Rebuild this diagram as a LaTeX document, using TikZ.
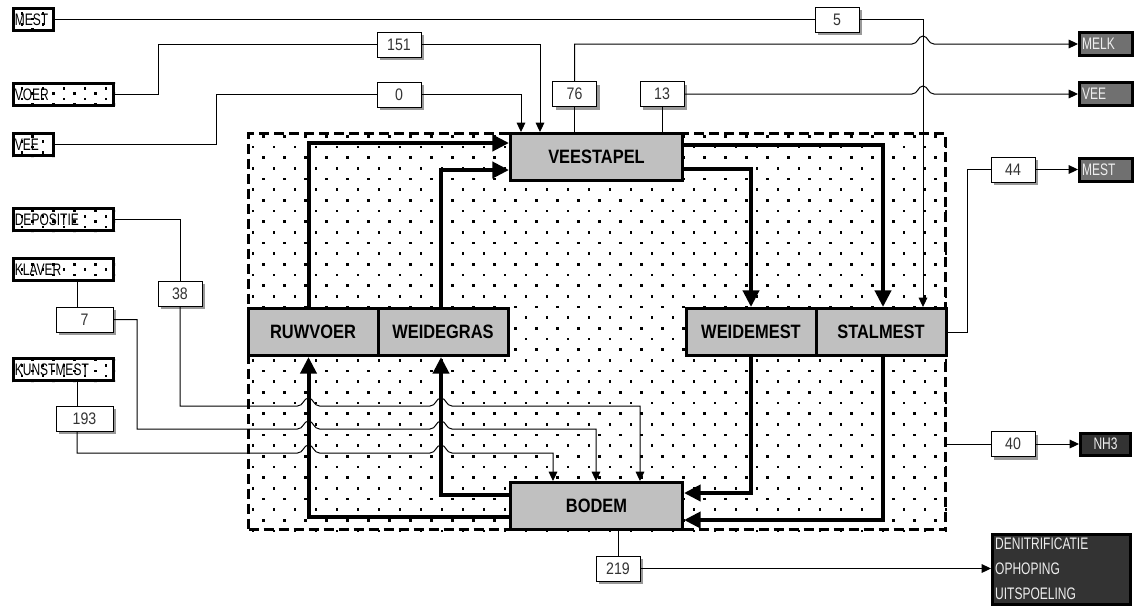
\documentclass[tikz,border=0pt]{standalone}
\usepackage{fontspec}
\setmainfont{Liberation Sans}
\newfontfamily\nar[FakeStretch=0.72]{Liberation Sans}
\newfontfamily\narnum[FakeStretch=0.85]{Liberation Sans}
\newfontfamily\mainb[FakeStretch=0.85]{Liberation Sans}
\usetikzlibrary{arrows.meta,shadows,calc}
\definecolor{boxgray}{HTML}{C0C0C0}
\definecolor{outgray}{HTML}{707070}
\definecolor{outdark}{HTML}{333333}
\definecolor{outtext}{HTML}{EEEEEE}
\definecolor{numtext}{HTML}{333333}
\newcommand\inlbl{\nar\fontsize{12.5pt}{14pt}\selectfont}
\newcommand\numlbl{\narnum\fontsize{12.5pt}{14pt}\selectfont}
\newcommand\mainlbl{\mainb\bfseries\fontsize{14.5pt}{16pt}\selectfont}
\newcommand\hopat[2]{-- (#1-11,#2) .. controls (#1-5,#2) and (#1-5,#2-8) .. (#1,#2-8) .. controls (#1+5,#2-8) and (#1+5,#2) .. (#1+11,#2)}
\tikzset{
  x=0.75pt, y=-0.75pt,
  mainbox/.style={draw, line width=2.25pt, fill=boxgray, inner sep=0pt,
    minimum height=35.25pt, minimum width=97.5pt, font=\mainlbl},
  inbox/.style={draw, line width=2.25pt, inner xsep=1pt, inner ysep=0pt,
    minimum height=16.5pt, align=left, font=\inlbl},
  valbox/.style={draw, line width=0.75pt, fill=white, inner sep=0pt,
    minimum width=33pt, minimum height=18.75pt, font=\numlbl, text=numtext,
    drop shadow={shadow xshift=2.25pt, shadow yshift=-2.25pt, fill=black!40, opacity=1}},
  outbox/.style={draw, line width=2.25pt, inner xsep=2pt, inner ysep=0pt,
    minimum height=17.25pt, align=left, font=\inlbl, text=outtext},
  framebox/.style={draw, line width=2.25pt, dash pattern=on 7.5pt off 3.75pt,
    inner sep=0pt, minimum width=522.75pt, minimum height=297pt},
  thinline/.style={line width=0.75pt, black},
  tarrow/.style={-{Triangle[length=7pt,width=6.5pt]}},
  thickline/.style={line width=3pt, black},
  Tarrow/.style={-{Triangle[length=12.5pt,width=12pt]}},
  dot/.style={fill=black},
}
\begin{document}
\begin{tikzpicture}
\useasboundingbox (0,0) rectangle (1136,608);
% dots inside the system frame
\begin{scope}
  \clip (247,132) rectangle (947,531);
  \foreach \j in {0,...,37} {
    \pgfmathsetmacro\yy{135+10.67*\j}
    \pgfmathsetmacro\dx{mod(\j,2)*10.5}
    \foreach \i in {0,...,34} {
      \fill[dot] (241+\dx+21*\i,\yy) rectangle ++(2.6,2.6);
    }
  }
\end{scope}
% dots inside input boxes
\begin{scope}
  \clip (12,7) rectangle (55,32) (12,82) rectangle (115,107) (12,132) rectangle (55,157)
        (12,207) rectangle (115,232) (12,257) rectangle (115,282) (12,357) rectangle (115,382);
  \foreach \j in {-26,...,48} {
    \pgfmathsetmacro\yy{135+5.33*\j}
    \pgfmathsetmacro\dx{mod(\j+40,2)*10.5}
    \foreach \i in {-12,...,-5} {
      \fill[dot] (241+\dx+21*\i,\yy) rectangle ++(2.6,2.6);
    }
  }
\end{scope}
% frame
\node[framebox] (sys) at (597,331.5) {};
% helper coordinates
\coordinate (x308) at (308.5,0);
\coordinate (x441) at (441,0);
\coordinate (x751) at (751,0);
\coordinate (x883) at (883,0);
\coordinate (x923) at (923,0);
\coordinate (x521) at (521,0);
\coordinate (x540) at (540,0);
\coordinate (x158) at (158,0);
\coordinate (x216) at (216,0);
\coordinate (x967) at (967,0);
\coordinate (x137) at (137,0);
\coordinate (x77) at (77,0);
\coordinate (x553) at (553,0);
\coordinate (x596) at (596,0);
\coordinate (x640) at (640,0);
\coordinate (y143) at (0,143);
\coordinate (y170) at (0,170);
\coordinate (y145) at (0,145);
\coordinate (y169) at (0,169);
\coordinate (y493) at (0,493);
\coordinate (y520) at (0,520);
\coordinate (y495) at (0,495);
\coordinate (y517) at (0,517);
% main boxes
\node[mainbox, minimum width=129pt] (veestapel) at (596.5,157) {VEESTAPEL};
\node[mainbox, minimum width=129pt] (bodem) at (596.5,506) {BODEM};
\node[mainbox] (ruwvoer) at (313,332) {RUWVOER};
\node[mainbox] (weidegras) at (443,332) {WEIDEGRAS};
\node[mainbox] (weidemest) at (751,332) {WEIDEMEST};
\node[mainbox] (stalmest) at (881,332) {STALMEST};
% input boxes
\node[inbox, text width=28pt] (imest) at (33.5,19.5) {MEST};
\node[inbox, text width=73pt] (ivoer) at (63.5,94.5) {VOER};
\node[inbox, text width=28pt] (ivee) at (33.5,144.5) {VEE};
\node[inbox, text width=73pt] (idep) at (63.5,219.5) {DEPOSITIE};
\node[inbox, text width=73pt] (iklaver) at (63.5,269.5) {KLAVER};
\node[inbox, text width=73pt] (ikunst) at (63.5,369.5) {KUNSTMEST};
% value boxes
\node[valbox] (v5) at (837,19.5) {5};
\node[valbox] (v151) at (399,44.5) {151};
\node[valbox] (v0) at (399,94.5) {0};
\node[valbox] (v76) at (574.5,94) {76};
\node[valbox] (v13) at (662,94) {13};
\node[valbox] (v44) at (1013,169.5) {44};
\node[valbox] (v40) at (1013,444) {40};
\node[valbox] (v219) at (618,568.5) {219};
\node[valbox] (v38) at (180,293.5) {38};
\node[valbox, minimum width=42.75pt] (v7) at (84.5,319.5) {7};
\node[valbox, minimum width=42.75pt] (v193) at (84.5,418.5) {193};
% output boxes
\node[outbox, fill=outgray, text width=35.75pt] (omelk) at (1106,44) {MELK};
\node[outbox, fill=outgray, text width=35.75pt] (ovee) at (1106,94) {VEE};
\node[outbox, fill=outgray, text width=35.75pt] (omest) at (1106,169.5) {MEST};
\node[outbox, fill=outdark, text width=33.5pt, align=center, minimum height=16.5pt] (onh3) at (1105.5,444) {NH3};
\node[outbox, fill=outdark, text width=99.5pt, minimum height=52.5pt,
      font=\nar\fontsize{12.5pt}{18.75pt}\selectfont] (oden) at (1061.5,569) {DENITRIFICATIE\\OPHOPING\\UITSPOELING};
% thin connectors: inputs
\draw[thinline] (imest.east) -- (v5.west);
\draw[thinline, tarrow] (v5.east) -| (stalmest.north -| x923);
\draw[thinline] (ivoer.east) -- (ivoer.east -| x158) |- (v151.west);
\draw[thinline, tarrow] (v151.east) -| (veestapel.north -| x540);
\draw[thinline] (ivee.east) -- (ivee.east -| x216) |- (v0.west);
\draw[thinline, tarrow] (v0.east) -| (veestapel.north -| x521);
% thin connectors: outputs
\draw[thinline] (veestapel.north -| v76) -- (v76.south);
\draw[thinline, tarrow] (v76.north) -- (v76.north |- omelk.west) \hopat{923}{44} -- (omelk.west);
\draw[thinline] (veestapel.north -| v13) -- (v13.south);
\draw[thinline, tarrow] (v13.east) \hopat{923}{94} -- (ovee.west);
\draw[thinline] (stalmest.east) -- (stalmest.east -| x967) |- (v44.west);
\draw[thinline, tarrow] (v44.east) -- (omest.west);
\draw[thinline] (sys.east |- v40.west) -- (v40.west);
\draw[thinline, tarrow] (v40.east) -- (onh3.west);
\draw[thinline] (bodem.south -| v219) -- (v219.north);
\draw[thinline, tarrow] (v219.east) -- (oden.west |- v219.east);
% thin connectors: deposition, clover, fertiliser
\draw[thinline] (idep.east) -| (v38.north);
\draw[thinline, tarrow] (v38.south) -- (180,406) \hopat{308.5}{406} \hopat{441}{406} -| (bodem.north -| x640);
\draw[thinline] (iklaver.south -| x77) -- (v7.north -| x77);
\draw[thinline, tarrow] (v7.east) -- (v7.east -| x137) -- (137,429) \hopat{308.5}{429} \hopat{441}{429} -| (bodem.north -| x596);
\draw[thinline] (ikunst.south -| x77) -- (v193.north -| x77);
\draw[thinline, tarrow] (v193.south -| x77) -- (77,453) \hopat{308.5}{453} \hopat{441}{453} -| (bodem.north -| x553);
% thick internal flows
\draw[thickline, Tarrow] (ruwvoer.north -| x308) |- (veestapel.west |- y143);
\draw[thickline, Tarrow] (weidegras.north -| x441) |- (veestapel.west |- y170);
\draw[thickline, Tarrow] (veestapel.east |- y145) -| (stalmest.north -| x883);
\draw[thickline, Tarrow] (veestapel.east |- y169) -| (weidemest.north -| x751);
\draw[thickline, Tarrow] (weidemest.south -| x751) |- (bodem.east |- y493);
\draw[thickline, Tarrow] (stalmest.south -| x883) |- (bodem.east |- y520);
\draw[thickline, Tarrow] (bodem.west |- y495) -| (weidegras.south -| x441);
\draw[thickline, Tarrow] (bodem.west |- y517) -| (ruwvoer.south -| x308);
\end{tikzpicture}
\end{document}
